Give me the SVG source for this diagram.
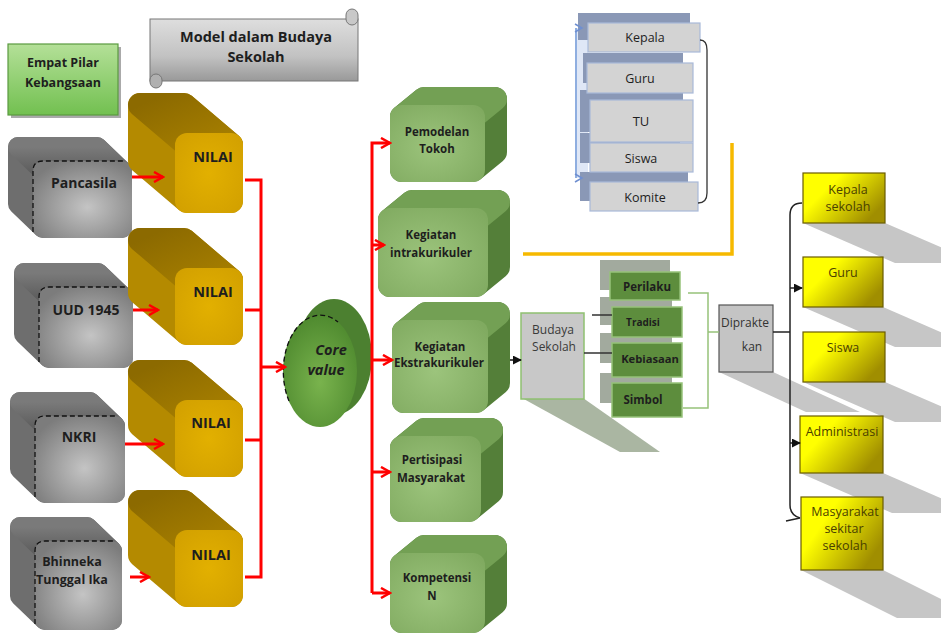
<svg xmlns="http://www.w3.org/2000/svg" width="941" height="635" viewBox="0 0 941 635">
<defs>
<style>
text{font-family:"Open Sans","Noto Sans","Liberation Sans",sans-serif;text-anchor:middle;fill:#1e1e1e}
.b{font-weight:bold}
.gs{fill:#6e6e6e;stroke:#6e6e6e;stroke-width:20;stroke-linejoin:round}
.gt{fill:url(#greyTop);stroke:url(#greyTop);stroke-width:20;stroke-linejoin:round}
.gf{fill:url(#greyFront)}
.dash{fill:none;stroke:#111;stroke-width:1.3;stroke-dasharray:5 3}
.os{fill:#b48a00;stroke:#b48a00;stroke-width:24;stroke-linejoin:round}
.ot{fill:url(#goldTop);stroke:url(#goldTop);stroke-width:24;stroke-linejoin:round}
.of{fill:url(#goldFront)}
.ns{fill:#547f39;stroke:#547f39;stroke-width:24;stroke-linejoin:round}
.nt{fill:#73a054;stroke:#73a054;stroke-width:24;stroke-linejoin:round}
.nf{fill:url(#greenFront)}
.red{fill:none;stroke:#ff0000;stroke-width:3}
.ra{marker-end:url(#redArrow)}
.blk{fill:none;stroke:#222;stroke-width:1.5}
.bk{fill:#8a98b6}
.bf{fill:#d3d3d3;stroke:#a9b9d9;stroke-width:1.2}
.sb{fill:#a2aa9e}
.sf{fill:#5d8d3d;stroke:#96c27a;stroke-width:1.5}
.sh{fill:#c6c6c6}
.yb{fill:url(#yel);stroke:#6a5c00;stroke-width:1.2}
.yt{fill:#4a4000;font-size:12.5px}
</style>
<radialGradient id="greyFront" cx="0.55" cy="0.6" r="0.65"><stop offset="0" stop-color="#c4c4c4"/><stop offset="1" stop-color="#7c7c7c"/></radialGradient>
<linearGradient id="greyTop" x1="0" y1="0" x2="0" y2="1"><stop offset="0" stop-color="#7a7a7a"/><stop offset="1" stop-color="#5f5f5f"/></linearGradient>
<radialGradient id="goldFront" cx="0.5" cy="0.5" r="0.7"><stop offset="0" stop-color="#e2b000"/><stop offset="1" stop-color="#d19f00"/></radialGradient>
<linearGradient id="goldTop" x1="0" y1="0" x2="1" y2="1"><stop offset="0" stop-color="#8c6a00"/><stop offset="1" stop-color="#a88000"/></linearGradient>
<radialGradient id="greenFront" cx="0.45" cy="0.55" r="0.7"><stop offset="0" stop-color="#9cc47c"/><stop offset="1" stop-color="#80aa60"/></radialGradient>
<radialGradient id="coreFront" cx="0.5" cy="0.6" r="0.6"><stop offset="0" stop-color="#79b34d"/><stop offset="1" stop-color="#4f8a2f"/></radialGradient>
<linearGradient id="yel" x1="0" y1="0" x2="1" y2="0.6"><stop offset="0.35" stop-color="#ffff00"/><stop offset="1" stop-color="#a08e00"/></linearGradient>
<linearGradient id="pilar" x1="0" y1="0" x2="0" y2="1"><stop offset="0" stop-color="#b4e098"/><stop offset="1" stop-color="#72c050"/></linearGradient>
<linearGradient id="scroll" x1="0" y1="0" x2="0" y2="1"><stop offset="0" stop-color="#dedede"/><stop offset="0.6" stop-color="#c2c2c2"/><stop offset="1" stop-color="#999"/></linearGradient>
<marker id="redArrow" viewBox="0 0 12 12" markerWidth="12" markerHeight="12" refX="10" refY="6" orient="auto" markerUnits="userSpaceOnUse"><path d="M1,1 L10,6 L1,11" fill="none" stroke="#ff0000" stroke-width="2.5"/></marker>
<marker id="blkArrow" viewBox="0 0 10 10" markerWidth="9" markerHeight="9" refX="9" refY="5" orient="auto" markerUnits="userSpaceOnUse"><path d="M0,0 L10,5 L0,10 z" fill="#111"/></marker>
</defs>
<rect width="941" height="635" fill="#ffffff"/>

<!-- title -->
<g id="title">
<rect x="150" y="19" width="208" height="62" fill="url(#scroll)" stroke="#777" stroke-width="1"/>
<rect x="346" y="9" width="12" height="16" rx="6" fill="#c8c8c8" stroke="#777"/>
<rect x="150" y="74" width="12" height="14" rx="6" fill="#b0b0b0" stroke="#777"/>
<text class="b" x="256" y="42" font-size="14.5">Model dalam Budaya</text>
<text class="b" x="256" y="62" font-size="14.5">Sekolah</text>
</g>
<g id="pilar-label">
<rect x="11" y="47" width="110" height="71" fill="#555" opacity="0.5"/>
<rect x="8" y="44" width="110" height="71" fill="url(#pilar)" stroke="#5a9a40" stroke-width="1.2"/>
<text class="b" x="63" y="67" font-size="12.5">Empat Pilar</text>
<text class="b" x="63" y="87" font-size="12.5">Kebangsaan</text>
</g>

<!-- grey boxes -->
<g id="pancasila">
<polygon class="gs" points="18,147 97,147 122,171 122,228 43,228 18,204"/>
<polygon class="gt" points="18,147 97,147 122,171 43,171"/>
<rect class="gf" x="33" y="161" width="99" height="77" rx="10"/>
<path class="dash" d="M33,232 L33,171 Q33,161 43,161 L124,161"/>
<text class="b" x="84" y="188" font-size="14">Pancasila</text>
</g>
<g id="uud1945">
<polygon class="gs" points="24,273 98,273 123,297 123,358 49,358 24,334"/>
<polygon class="gt" points="24,273 98,273 123,297 49,297"/>
<rect class="gf" x="39" y="287" width="94" height="81" rx="10"/>
<path class="dash" d="M39,362 L39,297 Q39,287 49,287 L125,287"/>
<text class="b" x="86" y="315" font-size="14">UUD 1945</text>
</g>
<g id="nkri">
<polygon class="gs" points="20,402 90,402 115,426 115,493 45,493 20,469"/>
<polygon class="gt" points="20,402 90,402 115,426 45,426"/>
<rect class="gf" x="35" y="416" width="90" height="87" rx="10"/>
<path class="dash" d="M35,497 L35,426 Q35,416 45,416 L117,416"/>
<text class="b" x="79" y="442" font-size="14">NKRI</text>
</g>
<g id="bhinneka">
<polygon class="gs" points="20,527 87,527 112,551 112,620 45,620 20,596"/>
<polygon class="gt" points="20,527 87,527 112,551 45,551"/>
<rect class="gf" x="35" y="541" width="87" height="89" rx="10"/>
<path class="dash" d="M35,624 L35,551 Q35,541 45,541 L114,541"/>
<text class="b" x="72" y="566" font-size="12.5">Bhinneka</text>
<text class="b" x="72" y="584" font-size="12.5">Tunggal Ika</text>
</g>

<!-- gold NILAI boxes -->
<g id="nilai1">
<polygon class="os" points="140,105 184,105 231,145 231,201 187,201 140,161"/>
<polygon class="ot" points="140,105 184,105 231,145 187,145"/>
<rect class="of" x="175" y="133" width="68" height="80" rx="12"/>
<text class="b" x="213" y="162" font-size="14.5">NILAI</text>
</g>
<g id="nilai2">
<polygon class="os" points="140,240 184,240 231,280 231,333 187,333 140,293"/>
<polygon class="ot" points="140,240 184,240 231,280 187,280"/>
<rect class="of" x="175" y="268" width="68" height="77" rx="12"/>
<text class="b" x="213" y="297" font-size="14.5">NILAI</text>
</g>
<g id="nilai3">
<polygon class="os" points="140,372 184,372 231,412 231,465 187,465 140,425"/>
<polygon class="ot" points="140,372 184,372 231,412 187,412"/>
<rect class="of" x="175" y="400" width="68" height="77" rx="12"/>
<text class="b" x="211" y="428" font-size="14.5">NILAI</text>
</g>
<g id="nilai4">
<polygon class="os" points="140,502 184,502 231,542 231,595 187,595 140,555"/>
<polygon class="ot" points="140,502 184,502 231,542 187,542"/>
<rect class="of" x="175" y="530" width="68" height="77" rx="12"/>
<text class="b" x="211" y="560" font-size="14.5">NILAI</text>
</g>

<!-- core value -->
<g id="core-value">
<ellipse cx="334" cy="357" rx="38" ry="58" fill="#4c8030"/>
<ellipse cx="320" cy="371" rx="37" ry="56" fill="url(#coreFront)"/>
<path class="dash" d="M289,401 A37,56 0 0 1 338,322"/>
<text class="b" x="331" y="355" font-size="14.5" font-style="italic">Core</text>
<text class="b" x="326" y="375" font-size="14.5" font-style="italic">value</text>
</g>

<!-- green activity boxes -->
<g id="pemodelan">
<polygon class="ns" points="402,117 424,99 495,99 495,152 473,170 402,170"/>
<polygon class="nt" points="402,117 424,99 495,99 473,117"/>
<rect class="nf" x="390" y="105" width="95" height="77" rx="12"/>
<text class="b" x="437" y="136" font-size="11.5">Pemodelan</text>
<text class="b" x="437" y="153" font-size="11.5">Tokoh</text>
</g>
<g id="intrakurikuler">
<polygon class="ns" points="390,220 412,202 498,202 498,267 476,285 390,285"/>
<polygon class="nt" points="390,220 412,202 498,202 476,220"/>
<rect class="nf" x="378" y="208" width="110" height="89" rx="12"/>
<text class="b" x="431" y="239" font-size="11.5">Kegiatan</text>
<text class="b" x="431" y="257" font-size="11.5">intrakurikuler</text>
</g>
<g id="ekstrakurikuler">
<polygon class="ns" points="404,332 426,314 498,314 498,383 476,401 404,401"/>
<polygon class="nt" points="404,332 426,314 498,314 476,332"/>
<rect class="nf" x="392" y="320" width="96" height="93" rx="12"/>
<text class="b" x="440" y="351" font-size="11.5">Kegiatan</text>
<text class="b" x="439" y="367" font-size="11.5">Ekstrakurikuler</text>
</g>
<g id="pertisipasi">
<polygon class="ns" points="402,448 424,430 491,430 491,492 469,510 402,510"/>
<polygon class="nt" points="402,448 424,430 491,430 469,448"/>
<rect class="nf" x="390" y="436" width="91" height="86" rx="12"/>
<text class="b" x="432" y="464" font-size="11.5">Pertisipasi</text>
<text class="b" x="431" y="482" font-size="11.5">Masyarakat</text>
</g>
<g id="kompetensi">
<polygon class="ns" points="402,565 424,547 495,547 495,603 473,621 402,621"/>
<polygon class="nt" points="402,565 424,547 495,547 473,565"/>
<rect class="nf" x="390" y="553" width="95" height="80" rx="12"/>
<text class="b" x="437" y="582" font-size="11.5">Kompetensi</text>
<text class="b" x="432" y="600" font-size="11.5">N</text>
</g>

<!-- blue stack -->
<g id="stack-bg">
<rect x="575" y="28" width="13" height="150" fill="#dfe7f6"/>
<rect class="bk" x="578" y="13" width="112" height="27"/>
<rect class="bk" x="583" y="53" width="100" height="30"/>
<rect class="bk" x="580" y="90" width="103" height="42"/>
<rect class="bk" x="580" y="133" width="100" height="30"/>
<rect class="bk" x="580" y="172" width="108" height="29"/>
</g>
<g id="kepala"><rect class="bf" x="588" y="23" width="112" height="29"/><text x="645" y="42" font-size="12.5">Kepala</text></g>
<g id="guru"><rect class="bf" x="587" y="63" width="106" height="30"/><text x="640" y="83" font-size="12.5">Guru</text></g>
<g id="tu"><rect class="bf" x="590" y="100" width="103" height="42"/><text x="641" y="126" font-size="13">TU</text></g>
<g id="siswa"><rect class="bf" x="590" y="143" width="103" height="29"/><text x="641" y="163" font-size="12.5">Siswa</text></g>
<g id="komite"><rect class="bf" x="590" y="182" width="108" height="29"/><text x="645" y="202" font-size="12.5">Komite</text></g>

<!-- budaya sekolah -->
<g id="budaya-sekolah">
<polygon class="sh" points="522,398 583,398 660,452 620,452" fill="#aab6a2" style="fill:#aab6a2"/>
<rect x="521" y="313" width="63" height="86" fill="#c8c8c8" stroke="#8fc070" stroke-width="1.5"/>
<text x="553" y="334" font-size="12" style="fill:#3a3a3a">Budaya</text>
<text x="554" y="351" font-size="12" style="fill:#3a3a3a">Sekolah</text>
</g>
<g id="stack-green-bg">
<rect class="sb" x="600" y="260" width="70" height="30"/>
<rect class="sb" x="600" y="297" width="72" height="28"/>
<rect class="sb" x="600" y="333" width="72" height="30"/>
<rect class="sb" x="600" y="373" width="72" height="30"/>
</g>
<g id="perilaku"><rect class="sf" x="610" y="272" width="70" height="28"/><text class="b" x="647" y="291" font-size="11.5">Perilaku</text></g>
<g id="tradisi"><rect class="sf" x="612" y="307" width="70" height="30"/><text class="b" x="643" y="326" font-size="10">Tradisi</text></g>
<g id="kebiasaan"><rect class="sf" x="612" y="343" width="70" height="34"/><text class="b" x="650" y="363" font-size="11.2">Kebiasaan</text></g>
<g id="simbol"><rect class="sf" x="612" y="383" width="70" height="34"/><text class="b" x="643" y="404" font-size="11.5">Simbol</text></g>

<g id="dipraktekan">
<polygon class="sh" points="719,372 773,372 860,412 806,412"/>
<rect x="719" y="305" width="54" height="67" fill="#c4c4c4" stroke="#555" stroke-width="1.2"/>
<text x="745" y="327" font-size="12" style="fill:#333">Diprakte</text>
<text x="752" y="351" font-size="12" style="fill:#333">kan</text>
</g>

<!-- yellow boxes -->
<g id="shadows">
<polygon class="sh" points="803,223 885,223 977,263 895,263"/>
<polygon class="sh" points="803,307 883,307 975,347 895,347"/>
<polygon class="sh" points="803,382 885,382 977,422 895,422"/>
<polygon class="sh" points="800,473 883,473 975,513 892,513"/>
<polygon class="sh" points="801,570 883,570 979,618 897,618"/>
</g>
<g id="kepala-sekolah"><rect class="yb" x="803" y="173" width="82" height="50"/><text class="yt" x="848" y="194">Kepala</text><text class="yt" x="848" y="211">sekolah</text></g>
<g id="guru-y"><rect class="yb" x="803" y="257" width="80" height="50"/><text class="yt" x="843" y="277">Guru</text></g>
<g id="siswa-y"><rect class="yb" x="803" y="332" width="82" height="50"/><text class="yt" x="843" y="352">Siswa</text></g>
<g id="administrasi"><rect class="yb" x="800" y="416" width="83" height="57"/><text class="yt" x="842" y="436">Administrasi</text></g>
<g id="masyarakat"><rect class="yb" x="801" y="497" width="82" height="73"/><text class="yt" x="845" y="516">Masyarakat</text><text class="yt" x="844" y="533">sekitar</text><text class="yt" x="845" y="550">sekolah</text></g>

<!-- connectors -->
<g id="connectors">
<line class="red ra" x1="132" y1="177" x2="163" y2="177"/>
<line class="red ra" x1="133" y1="310" x2="158" y2="310"/>
<line class="red ra" x1="125" y1="444" x2="163" y2="444"/>
<line class="red ra" x1="130" y1="577" x2="149" y2="577"/>
<path class="red" d="M245,180 L261,180 L261,577 L245,577 M245,310 L261,310 M245,440 L261,440"/>
<line class="red ra" x1="261" y1="367" x2="285" y2="367"/>
<path class="red ra" d="M372,593 L372,143 L390,143"/>
<line class="red ra" x1="372" y1="245" x2="384" y2="245"/>
<line class="red ra" x1="372" y1="360" x2="392" y2="360"/>
<line class="red ra" x1="372" y1="472" x2="390" y2="472"/>
<line class="red ra" x1="372" y1="593" x2="390" y2="593"/>
<line x1="510" y1="360" x2="521" y2="360" stroke="#111" stroke-width="1.5" marker-end="url(#blkArrow)"/>
<path d="M732,143 L732,254 L523,254" fill="none" stroke="#f6b900" stroke-width="3.5"/>
<path d="M576,28 L576,178" fill="none" stroke="#8faee0" stroke-width="2"/>
<path d="M575,24 L582,28 L575,32 M575,174 L582,178 L575,182" fill="none" stroke="#6f8fd0" stroke-width="1.5"/>
<path d="M700,40 Q707,40 707,50 L707,193 Q707,203 698,203" fill="none" stroke="#333" stroke-width="1.3"/>
<path class="blk" d="M592,315 L612,315 M584,353 L612,353" style="stroke:#333"/>
<path d="M688,293 L708,293 L708,408 L683,408 M708,332 L719,332" fill="none" stroke="#96c27a" stroke-width="1.5"/>
<path class="blk" d="M773,332 L790,332"/>
<path class="blk" d="M802,203 Q790,203 790,215 L790,505 Q790,515 800,518 M786,521 L800,518"/>
<line class="blk" x1="790" y1="288" x2="802" y2="288" marker-end="url(#blkArrow)"/>
<line class="blk" x1="790" y1="443" x2="800" y2="443" marker-end="url(#blkArrow)"/>
</g>
</svg>
